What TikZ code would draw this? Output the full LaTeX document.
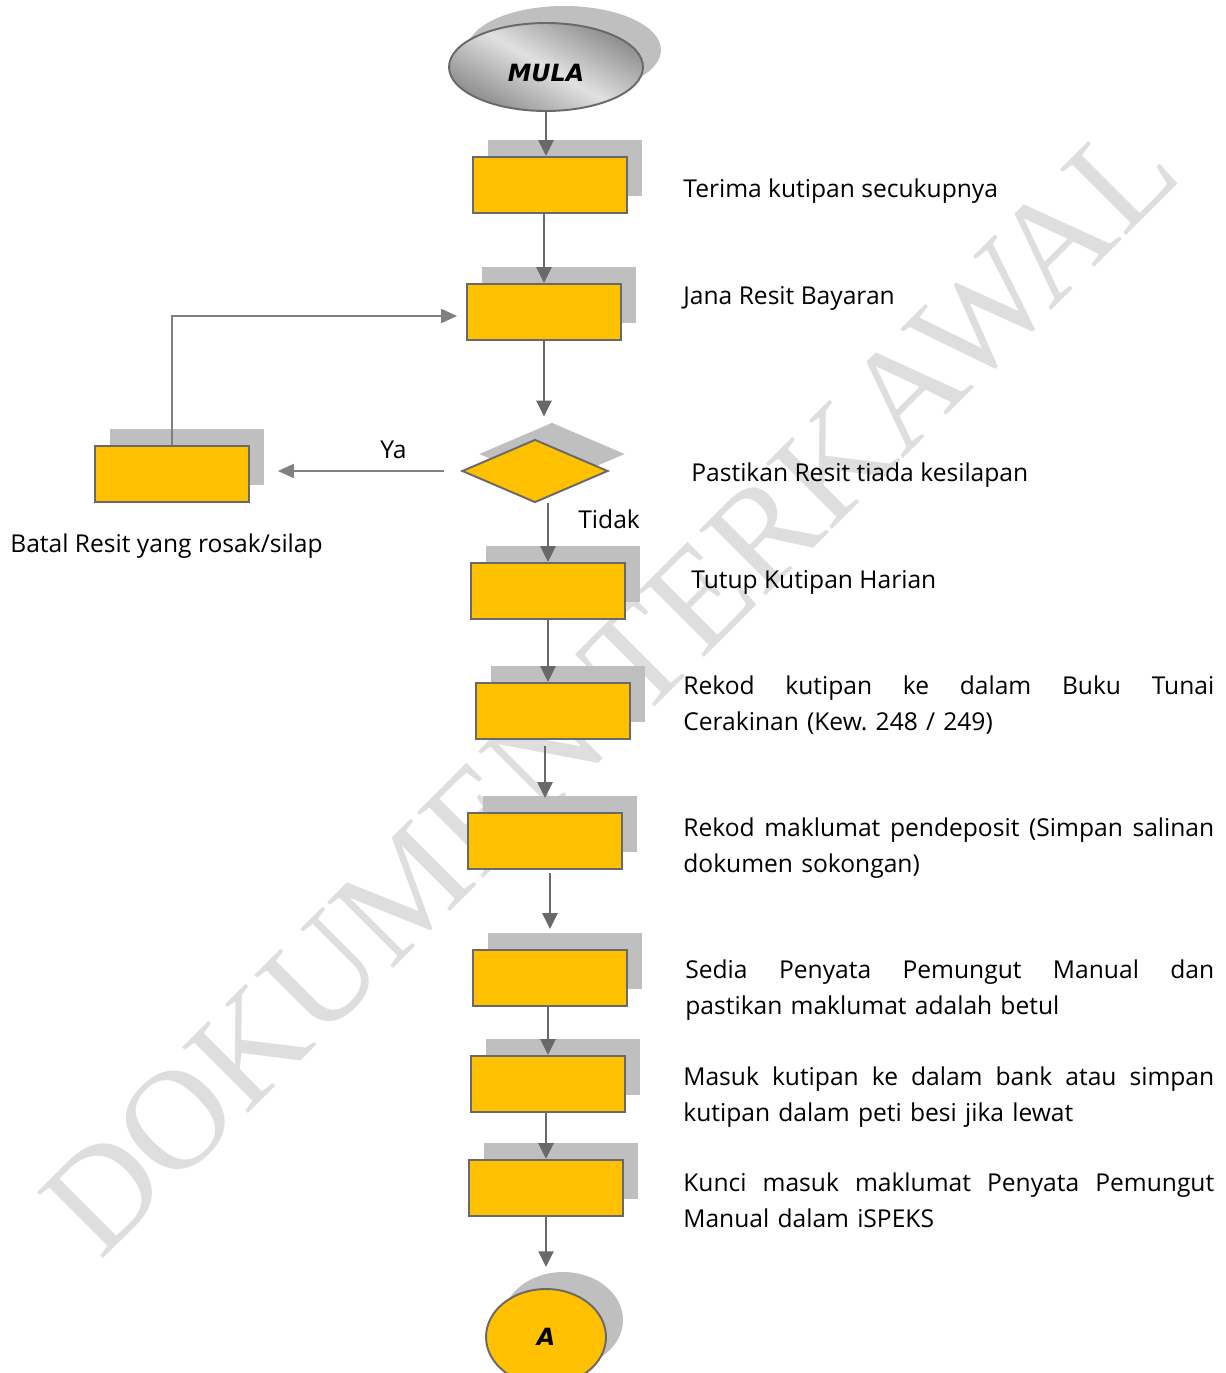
\documentclass[tikz,border=0pt]{standalone}
\usepackage{fontspec}
\setmainfont{Open Sans}
\newfontfamily\ovalfont{DejaVu Sans}
\newfontfamily\terafont{Liberation Serif}
\usetikzlibrary{shapes.geometric,shadows,arrows.meta}

\definecolor{kuning}{RGB}{255,192,0}
\definecolor{bayang}{RGB}{191,191,191}
\definecolor{garisan}{RGB}{105,105,105}
\definecolor{nipisgray}{RGB}{128,128,128}
\definecolor{tera}{RGB}{222,222,222}

% baris pertama yang diratakan penuh
\newcommand{\barispenuh}[1]{\makebox[\linewidth][s]{\spaceskip=0pt\xspaceskip=0pt\strut #1}}

\begin{document}
\begin{tikzpicture}[x=0.02cm, y=-0.02cm]
        \tikzstyle{kotak}=[rectangle, draw=garisan, line width=1.1pt, fill=kuning, minimum width=3.08cm, minimum height=1.12cm, inner sep=0pt, drop shadow={shadow xshift=0.3cm, shadow yshift=0.34cm, fill=bayang, opacity=1}]
        \tikzstyle{keputusan}=[diamond, draw=garisan, line width=1.1pt, fill=kuning, minimum width=2.92cm, minimum height=1.26cm, inner sep=0pt, drop shadow={shadow xshift=0.34cm, shadow yshift=0.34cm, fill=bayang, opacity=1}]
        \tikzstyle{bujur}=[ellipse, draw=garisan, line width=1.1pt, inner sep=0pt, font=\ovalfont\bfseries\itshape\fontsize{13.5pt}{16pt}\selectfont, text=black]
        \tikzstyle{ket}=[anchor=north west, inner sep=0pt, font=\fontsize{14pt}{20pt}\selectfont\frenchspacing, text=black]
        \tikzstyle{panah}=[draw=garisan, line width=1.6pt, -{Triangle[width=8.5pt,length=9pt]}]
        \tikzstyle{nipis}=[draw=nipisgray, line width=0.7pt, -{Triangle[width=8pt,length=9pt]}]

        \useasboundingbox (0,0) rectangle (1226,1373);
        \clip (0,0) rectangle (1226,1373);

        % tera air
        \node[rotate=45, anchor=base west, inner sep=0pt, text=tera, font=\terafont\fontsize{81pt}{81pt}\selectfont] (tera) at (100,1262) {DOKUMEN TERKAWAL};

        \node[bujur, minimum width=3.88cm, minimum height=1.76cm, left color=black!45, right color=black!45, middle color=black!12, shading angle=-30, drop shadow={shadow xshift=0.36cm, shadow yshift=0.34cm, fill=bayang, opacity=1}] (mula) at (546,67) {\raisebox{-0.28cm}[0pt][0pt]{MULA}};

        \node[kotak] (b1) at (550,185) {};
        \node[kotak] (b2) at (544,312) {};
        \node[keputusan] (dia) at (535,471) {};
        \node[kotak] (batal) at (172,474) {};
        \node[kotak] (b3) at (548,591) {};
        \node[kotak] (b4) at (553,711) {};
        \node[kotak] (b5) at (545,841) {};
        \node[kotak] (b6) at (550,978) {};
        \node[kotak] (b7) at (548,1084) {};
        \node[kotak] (b8) at (546,1188) {};

        \node[bujur, fill=kuning, minimum width=2.4cm, minimum height=1.92cm, drop shadow={shadow xshift=0.34cm, shadow yshift=0.34cm, fill=bayang, opacity=1}] (A) at (546,1337) {A};

        \draw[panah] (mula.south) -- (mula.south |- b1.north);
        \draw[panah] (b2.north |- b1.south) -- (b2.north);
        \draw[panah, shorten >=0.44cm] (b2.south) -- (b2.south |- dia.north);
        \draw[nipis, shorten <=0.34cm, shorten >=0.56cm] (dia.west) -- (dia.west -| batal.east);
        \draw[nipis, shorten >=0.18cm] (batal.north) |- ([yshift=-0.08cm]b2.west);
        \draw[panah] (b3.north |- dia.south) -- (b3.north);
        \draw[panah] (b3.south) -- (b3.south |- b4.north);
        \draw[panah, shorten <=0.12cm, shorten >=0.28cm] (b5.north |- b4.south) -- (b5.north);
        \draw[panah, shorten <=0.06cm, shorten >=0.4cm] (b6.north |- b5.south) -- (b6.north);
        \draw[panah] (b7.north |- b6.south) -- (b7.north);
        \draw[panah] (b8.north |- b7.south) -- (b8.north);
        \draw[panah, shorten >=0.42cm] (b8.south) -- (b8.south |- A.north);

        \node[ket] (ya) at (380,434) {\strut Ya};
        \node[ket] (tidak) at (578,504) {\strut Tidak};
        \node[ket] (kbatal) at (10,528) {\strut Batal Resit yang rosak/silap};

        \node[ket] (k1) at (683,173) {\strut Terima kutipan secukupnya};
        \node[ket] (k2) at (683,280) {\strut Jana Resit Bayaran};
        \node[ket] (k3) at (691,457) {\strut Pastikan Resit tiada kesilapan};
        \node[ket] (k4) at (691,564) {\strut Tutup Kutipan Harian};
        \node[ket, text width=10.62cm, align=left] (k5) at (683,670) {\barispenuh{Rekod kutipan ke dalam Buku Tunai}\\Cerakinan (Kew. 248 / 249)};
        \node[ket, text width=10.62cm, align=left] (k6) at (683,812) {\barispenuh{Rekod maklumat pendeposit (Simpan salinan}\\dokumen sokongan)};
        \node[ket, text width=10.58cm, align=left] (k7) at (685,954) {\barispenuh{Sedia Penyata Pemungut Manual dan}\\pastikan maklumat adalah betul};
        \node[ket, text width=10.62cm, align=left] (k8) at (683,1061) {\barispenuh{Masuk kutipan ke dalam bank atau simpan}\\kutipan dalam peti besi jika lewat};
        \node[ket, text width=10.62cm, align=left] (k9) at (683,1167) {\barispenuh{Kunci masuk maklumat Penyata Pemungut}\\Manual dalam iSPEKS};
    \end{tikzpicture}
\end{document}
